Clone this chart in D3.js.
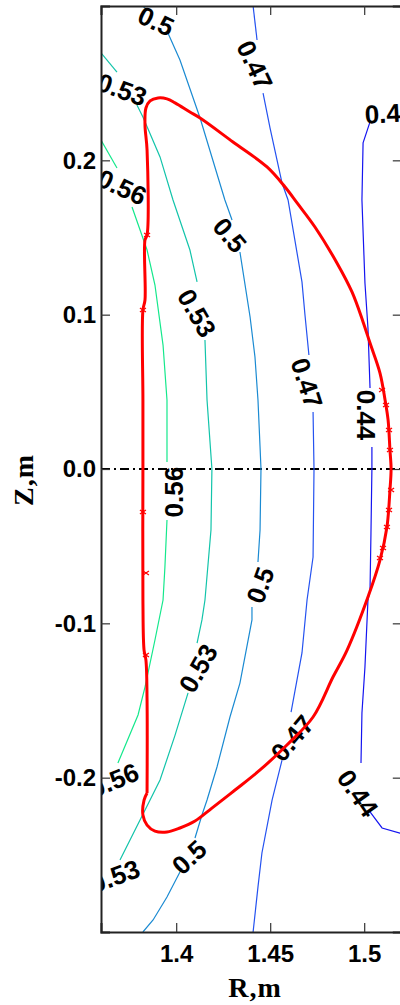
<!DOCTYPE html>
<html>
<head>
<meta charset="utf-8">
<script src="https://cdn.jsdelivr.net/npm/d3@7"></script>
<style>
  html, body { margin: 0; padding: 0; background: #fff; }
  svg { display: block; }
</style>
</head>
<body>
<svg id="chart" width="400" height="1005"></svg>
<script>
// ---- data -------------------------------------------------------------
const levels = [0.56, 0.53, 0.5, 0.47, 0.44];
const xTicks = [1.4, 1.45, 1.5];
const yTicks = [-0.2, -0.1, 0.0, 0.1, 0.2];

// iso-lines, each level split into pieces where its labels sit; points are [R, Z]
const contour056 = [
  [[1.3600, 0.2132], [1.3685, 0.1950]],
  [[1.3765, 0.1698], [1.3845, 0.1419], [1.3887, 0.1192], [1.3930, 0.0803], [1.3951, 0.0447], [1.3951, 0.0045]],
  [[1.3951, -0.0330], [1.3940, -0.0635], [1.3930, -0.0849], [1.3887, -0.1108], [1.3834, -0.1413], [1.3797, -0.1594], [1.3690, -0.1905]]
];
const contour053 = [
  [[1.3600, 0.2696], [1.3685, 0.2572]],
  [[1.3791, 0.2359], [1.3823, 0.2281], [1.3914, 0.2022], [1.3983, 0.1743], [1.4073, 0.1419], [1.4111, 0.1212]],
  [[1.4153, 0.0836], [1.4164, 0.0447], [1.4190, 0.0], [1.4185, -0.0395], [1.4153, -0.0849], [1.4137, -0.0978], [1.4111, -0.1128]],
  [[1.4063, -0.1451], [1.3994, -0.1724], [1.3914, -0.2015], [1.3861, -0.2145], [1.3701, -0.2533]]
];
const contour050 = [
  [[1.3823, 0.3000], [1.3845, 0.2974]],
  [[1.3956, 0.2825], [1.4020, 0.2650], [1.4127, 0.2274], [1.4259, 0.1743], [1.4297, 0.1613]],
  [[1.4339, 0.1406], [1.4393, 0.0985], [1.4419, 0.0726], [1.4435, 0.0447], [1.4446, 0.0143], [1.4451, 0.0], [1.4446, -0.0395], [1.4435, -0.0603]],
  [[1.4403, -0.0894], [1.4403, -0.0978], [1.4339, -0.1387], [1.4286, -0.1607], [1.4217, -0.1931], [1.4164, -0.2145], [1.4137, -0.2242], [1.4100, -0.2391]],
  [[1.4031, -0.2585], [1.3951, -0.2773], [1.3877, -0.2922], [1.3823, -0.3000]]
];
const contour047 = [
  [[1.4409, 0.3000], [1.4430, 0.2780]],
  [[1.4462, 0.2436], [1.4499, 0.2210], [1.4563, 0.1853], [1.4595, 0.1743], [1.4669, 0.1212], [1.4685, 0.0998], [1.4706, 0.0739]],
  [[1.4728, 0.0369], [1.4733, 0.0], [1.4728, -0.0570], [1.4696, -0.0849], [1.4669, -0.1192], [1.4611, -0.1575]],
  [[1.4563, -0.1886], [1.4510, -0.2145], [1.4456, -0.2488], [1.4435, -0.2708], [1.4409, -0.3000]]
];
const contour044 = [
  [[1.5031, 0.2249], [1.4994, 0.2113], [1.4988, 0.1743], [1.5004, 0.1205], [1.5020, 0.0914], [1.5031, 0.0525]],
  [[1.5041, 0.0143], [1.5041, 0.0], [1.5036, -0.0415], [1.5031, -0.0784], [1.5020, -0.0849], [1.5004, -0.1283], [1.4988, -0.1581], [1.4983, -0.1905]],
  [[1.5031, -0.2222], [1.5095, -0.2326], [1.5190, -0.2359], [1.5217, -0.2365]]
];
const contours = [contour056, contour053, contour050, contour047, contour044];

// in-line labels: [level, R, Z, rotation in degrees]
const contourLabels = [
  [0.5,  1.3893,  0.2903,  25],
  [0.53, 1.3712,  0.2460,  20],
  [0.56, 1.3712,  0.1827,  25],
  [0.47, 1.4419,  0.2618,  65],
  [0.44, 1.5137,  0.2307,  -3],
  [0.5,  1.4286,  0.1516,  50],
  [0.53, 1.4111,  0.1011,  60],
  [0.47, 1.4696,  0.0557,  72],
  [0.44, 1.5010,  0.0350,  90],
  [0.56, 1.3988, -0.0150, -90],
  [0.5,  1.4446, -0.0752, -70],
  [0.53, 1.4116, -0.1290, -60],
  [0.47, 1.4616, -0.1743, -50],
  [0.44, 1.4967, -0.2100,  55],
  [0.56, 1.3669, -0.2015, -22],
  [0.5,  1.4068, -0.2514, -43],
  [0.53, 1.3674, -0.2637, -20]
];

// last closed flux surface, [R, Z]
const separatrix = [
  [1.3845, -0.2099], [1.3845, -0.1497], [1.3839, -0.1238], [1.3829, -0.1173], [1.3823, -0.0849],
  [1.3823, 0.0], [1.3823, 0.0447], [1.3823, 0.1030], [1.3834, 0.1095], [1.3834, 0.1484],
  [1.3845, 0.1516], [1.3845, 0.2067], [1.3834, 0.2229], [1.3839, 0.2339], [1.3861, 0.2385],
  [1.3903, 0.2404], [1.3951, 0.2398], [1.3994, 0.2372], [1.4073, 0.2313], [1.4127, 0.2274],
  [1.4302, 0.2119], [1.4483, 0.1957], [1.4579, 0.1827], [1.4643, 0.1724], [1.4738, 0.1568],
  [1.4855, 0.1335], [1.4935, 0.1147], [1.4994, 0.0953], [1.5031, 0.0816], [1.5084, 0.0622],
  [1.5111, 0.0447], [1.5127, 0.0318], [1.5137, 0.0123], [1.5143, 0.0], [1.5137, -0.0136],
  [1.5121, -0.0376], [1.5084, -0.0590], [1.5020, -0.0829], [1.4909, -0.1173], [1.4834, -0.1348],
  [1.4728, -0.1607], [1.4589, -0.1788], [1.4446, -0.1950], [1.4313, -0.2080], [1.4190, -0.2197],
  [1.4100, -0.2281], [1.4020, -0.2326], [1.3951, -0.2352], [1.3887, -0.2346], [1.3845, -0.2307],
  [1.3823, -0.2242], [1.3829, -0.2145], [1.3845, -0.2099]
];

// measured points marked on the boundary, [R, Z]
const boundaryMarks = [
  [1.3823, 0.1030], [1.3845, 0.1516], [1.3823, -0.0279], [1.3839, -0.0674], [1.3839, -0.1205],
  [1.5095, 0.0512], [1.5116, 0.0415], [1.5132, 0.0253], [1.5137, 0.0123], [1.5143, -0.0136],
  [1.5132, -0.0266], [1.5121, -0.0376], [1.5100, -0.0512], [1.5084, -0.0577]
];

// ---- layout -----------------------------------------------------------
const svg = d3.select("#chart");
const plotLeft = 101, plotRight = 401.8, plotTop = 6, plotBottom = 932;

const x = d3.scaleLinear().domain([1.36, 1.52]).range([plotLeft, plotRight]);
const y = d3.scaleLinear().domain([-0.3, 0.3]).range([plotBottom, plotTop]);

const levelColor = d3.scaleOrdinal()
  .domain(levels)
  .range(["#14e88c", "#12c4aa", "#1a8ad2", "#2452f0", "#1414f0"]);

const line = d3.line().x(d => x(d[0])).y(d => y(d[1]));
const smoothLine = d3.line().x(d => x(d[0])).y(d => y(d[1])).curve(d3.curveCatmullRom.alpha(0.5));

svg.append("defs").append("clipPath").attr("id", "plotClip")
  .append("rect")
  .attr("x", plotLeft).attr("y", plotTop)
  .attr("width", plotRight - plotLeft).attr("height", plotBottom - plotTop);

const plot = svg.append("g").attr("clip-path", "url(#plotClip)");

// mid-plane Z = 0
plot.append("line")
  .attr("x1", x(1.36)).attr("x2", x(1.52))
  .attr("y1", y(0)).attr("y2", y(0))
  .attr("stroke", "#000").attr("stroke-width", 1.8)
  .attr("stroke-dasharray", "9,4,2,4");

// iso-lines
contours.forEach((segs, i) => {
  plot.append("g")
    .selectAll("path")
    .data(segs)
    .join("path")
    .attr("d", line)
    .attr("fill", "none")
    .attr("stroke", levelColor(levels[i]))
    .attr("stroke-width", 1.2);
});

// labels on the iso-lines
plot.append("g")
  .selectAll("text")
  .data(contourLabels)
  .join("text")
  .attr("transform", d => `translate(${x(d[1])},${y(d[2])}) rotate(${d[3]})`)
  .attr("text-anchor", "middle")
  .attr("dy", "0.36em")
  .attr("font-family", "'Liberation Sans', Arial, sans-serif")
  .attr("font-weight", "bold")
  .attr("font-size", 26)
  .attr("fill", "#000")
  .text(d => String(d[0]));

// boundary
plot.append("path")
  .datum(separatrix)
  .attr("d", smoothLine)
  .attr("fill", "none")
  .attr("stroke", "#ff0000")
  .attr("stroke-width", 3)
  .attr("stroke-linejoin", "round");

plot.append("g")
  .selectAll("path")
  .data(boundaryMarks)
  .join("path")
  .attr("transform", d => `translate(${x(d[0])},${y(d[1])})`)
  .attr("d", "M-3,-2L3,2M-3,2L3,-2")
  .attr("stroke", "#ff0000")
  .attr("stroke-width", 1.3);

// ---- axes -------------------------------------------------------------
const tickFont = g => g.selectAll("text")
  .attr("font-family", "'Liberation Sans', Arial, sans-serif")
  .attr("font-weight", "bold")
  .attr("font-size", 24)
  .attr("fill", "#000");

const xFmt = d => String(+d.toFixed(2));
const yFmt = d => d.toFixed(1);

const gx = svg.append("g").attr("transform", `translate(0,${plotBottom})`)
  .call(d3.axisBottom(x).tickValues(xTicks).tickFormat(xFmt).tickSize(-9).tickPadding(13));
gx.call(tickFont);

const gxt = svg.append("g").attr("transform", `translate(0,${plotTop})`)
  .call(d3.axisTop(x).tickValues(xTicks).tickFormat("").tickSize(-9));

const gy = svg.append("g").attr("transform", `translate(${plotLeft},0)`)
  .call(d3.axisLeft(y).tickValues(yTicks).tickFormat(yFmt).tickSize(-9).tickPadding(5));
gy.call(tickFont);

const gyr = svg.append("g").attr("transform", `translate(${plotRight},0)`)
  .call(d3.axisRight(y).tickValues(yTicks).tickFormat("").tickSize(-9));

[gx, gxt, gy, gyr].forEach(g => {
  g.select(".domain").attr("stroke", "#222").attr("stroke-width", 2);
  g.selectAll(".tick line").attr("stroke", "#333").attr("stroke-width", 1.2);
});

// axis titles
svg.append("text")
  .attr("x", 255).attr("y", 997)
  .attr("text-anchor", "middle")
  .attr("font-family", "'Liberation Serif', 'Times New Roman', serif")
  .attr("font-weight", "bold")
  .attr("font-size", 28)
  .attr("letter-spacing", 1)
  .text("R,m");

svg.append("text")
  .attr("transform", "translate(33,480) rotate(-90)")
  .attr("text-anchor", "middle")
  .attr("font-family", "'Liberation Serif', 'Times New Roman', serif")
  .attr("font-weight", "bold")
  .attr("font-size", 28)
  .attr("letter-spacing", 1)
  .text("Z,m");
</script>
</body>
</html>
